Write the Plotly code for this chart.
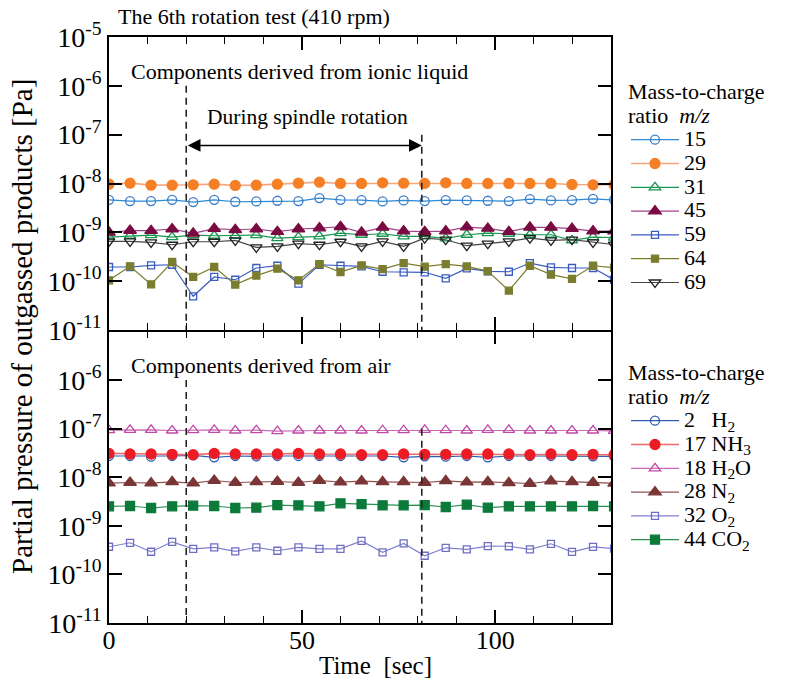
import plotly.graph_objects as go

# ---------------- data ----------------
time_s = [0, 5.45, 10.9, 16.35, 21.8, 27.25, 32.7, 38.15, 43.6, 49.05, 54.5, 59.95,
          65.4, 70.85, 76.3, 81.75, 87.2, 92.65, 98.1, 103.55, 109.0, 114.45, 119.9, 125.35, 130.8]

# ionic-liquid derived components (top panel)
mz15 = [4.64e-9, 4.36e-9, 4.36e-9, 4.64e-9, 4.16e-9, 4.64e-9, 4.23e-9, 4.30e-9, 4.43e-9, 4.36e-9, 5.02e-9, 4.64e-9,
        4.57e-9, 4.30e-9, 4.50e-9, 4.36e-9, 4.57e-9, 4.50e-9, 4.43e-9, 4.36e-9, 4.79e-9, 4.50e-9, 4.57e-9, 4.86e-9, 4.6e-9]
mz29 = [9.7e-9, 1.017e-8, 9.26e-9, 9.26e-9, 9.41e-9, 9.7e-9, 9.12e-9, 9.26e-9, 9.7e-9, 1.017e-8, 1.066e-8, 1.002e-8,
        1.002e-8, 1.033e-8, 1.017e-8, 1.002e-8, 1.033e-8, 1.002e-8, 1.002e-8, 1.002e-8, 1.002e-8, 1.002e-8, 9.55e-9, 9.41e-9, 9.41e-9]
mz31 = [8.00e-10, 8.52e-10, 8.79e-10, 8.00e-10, 8.79e-10, 8.52e-10, 8.52e-10, 8.79e-10, 7.63e-10, 8.00e-10, 8.26e-10, 9.66e-10,
        8.93e-10, 9.36e-10, 8.26e-10, 8.26e-10, 7.52e-10, 8.93e-10, 9.66e-10, 9.36e-10, 8.93e-10, 8.93e-10, 6.84e-10, 8.00e-10, 7.8e-10]
mz45 = [9.95e-10, 1.09e-9, 1.08e-9, 1.17e-9, 9.5e-10, 1.19e-9, 1.13e-9, 1.17e-9, 1.03e-9, 1.17e-9, 1.22e-9, 1.30e-9,
        9.95e-10, 1.26e-9, 1.06e-9, 1.03e-9, 1.06e-9, 1.28e-9, 1.20e-9, 1.03e-9, 1.26e-9, 1.26e-9, 1.19e-9, 1.06e-9, 1.06e-9]
mz59 = [1.95e-10, 1.95e-10, 2.11e-10, 2.17e-10, 4.9e-11, 1.22e-10, 1.07e-10, 1.86e-10, 2.07e-10, 8.9e-11, 2.17e-10, 2.07e-10,
        2.01e-10, 1.56e-10, 1.52e-10, 1.52e-10, 1.14e-10, 1.83e-10, 1.59e-10, 1.56e-10, 2.35e-10, 1.92e-10, 1.86e-10, 1.86e-10, 1.07e-10]
mz64 = [1.04e-10, 2.01e-10, 8.6e-11, 2.47e-10, 1.22e-10, 1.95e-10, 8.5e-11, 1.30e-10, 1.80e-10, 1.04e-10, 2.24e-10, 1.54e-10,
        2.11e-10, 1.77e-10, 2.35e-10, 1.98e-10, 2.24e-10, 2.01e-10, 1.61e-10, 6.4e-11, 2.07e-10, 1.36e-10, 1.11e-10, 2.07e-10, 1.9e-10]
mz69 = [6.52e-10, 6.52e-10, 6.22e-10, 5.57e-10, 6.42e-10, 6.42e-10, 6.84e-10, 4.92e-10, 5.15e-10, 5.85e-10, 5.57e-10, 6.42e-10,
        5.15e-10, 6.52e-10, 5.15e-10, 7.63e-10, 7.06e-10, 5.32e-10, 5.85e-10, 6.52e-10, 7.63e-10, 6.84e-10, 7.06e-10, 6.22e-10, 5.6e-10]

# air derived components (bottom panel)
h2 = [2.74e-8, 2.74e-8, 2.65e-8, 2.74e-8, 2.82e-8, 2.57e-8, 2.74e-8, 2.69e-8, 2.74e-8, 2.74e-8, 2.74e-8, 2.74e-8,
      2.74e-8, 2.74e-8, 2.57e-8, 2.69e-8, 2.65e-8, 2.74e-8, 2.57e-8, 2.74e-8, 2.74e-8, 2.74e-8, 2.74e-8, 2.69e-8, 2.69e-8]
nh3 = [3.10e-8, 3.01e-8, 3.01e-8, 2.96e-8, 2.91e-8, 3.10e-8, 3.01e-8, 3.01e-8, 3.01e-8, 3.10e-8, 3.01e-8, 3.01e-8,
       2.91e-8, 2.91e-8, 3.01e-8, 2.96e-8, 2.96e-8, 3.01e-8, 3.01e-8, 3.01e-8, 2.91e-8, 3.01e-8, 2.91e-8, 2.96e-8, 2.91e-8]
h2o = [9.3e-8, 9.45e-8, 9.45e-8, 9.16e-8, 9.3e-8, 9.45e-8, 9.16e-8, 9.3e-8, 8.88e-8, 9.16e-8, 9.16e-8, 9.16e-8,
       9.16e-8, 9.3e-8, 9.3e-8, 9.45e-8, 9.3e-8, 9.16e-8, 9.45e-8, 9.45e-8, 9.16e-8, 9.16e-8, 9.16e-8, 9.16e-8, 9.0e-8]
n2 = [7.55e-9, 7.8e-9, 7.55e-9, 8.04e-9, 7.55e-9, 8.57e-9, 7.8e-9, 8.04e-9, 8.17e-9, 7.8e-9, 8.57e-9, 7.91e-9,
      8.3e-9, 8.04e-9, 8.04e-9, 7.8e-9, 8.43e-9, 7.91e-9, 8.04e-9, 7.67e-9, 7.43e-9, 8.3e-9, 8.04e-9, 7.8e-9, 7.5e-9]
o2 = [3.71e-10, 4.48e-10, 2.93e-10, 4.69e-10, 3.37e-10, 3.59e-10, 2.98e-10, 3.59e-10, 3.07e-10, 3.59e-10, 3.37e-10, 3.37e-10,
      4.9e-10, 2.84e-10, 4.35e-10, 2.42e-10, 3.53e-10, 3.27e-10, 3.83e-10, 3.8e-10, 3.27e-10, 4.27e-10, 2.92e-10, 3.7e-10, 3.4e-10]
co2 = [2.52e-9, 2.56e-9, 2.33e-9, 2.52e-9, 2.60e-9, 2.56e-9, 2.33e-9, 2.36e-9, 2.68e-9, 2.64e-9, 2.52e-9, 2.90e-9,
       2.81e-9, 2.64e-9, 2.64e-9, 2.68e-9, 2.44e-9, 2.72e-9, 2.36e-9, 2.52e-9, 2.52e-9, 2.52e-9, 2.52e-9, 2.56e-9, 2.52e-9]

rotation_start = 20
rotation_end = 81

y_tick_vals = [1e-5, 1e-6, 1e-7, 1e-8, 1e-9, 1e-10, 1e-11]
y_tick_text_top = ["10<sup>-5</sup>", "10<sup>-6</sup>", "10<sup>-7</sup>", "10<sup>-8</sup>",
                   "10<sup>-9</sup>", "10<sup>-10</sup>", "10<sup>-11</sup>"]
y_tick_text_bottom = [""] + y_tick_text_top[1:]
x_tick_vals = [0, 50, 100]

FONT = "Liberation Serif, Times New Roman, serif"
LEG = 22

top_series = [
    ("15", mz15, "circle-open", 9, "#3a7cc8", "#2a8ad4", 1.2),
    ("29", mz29, "circle", 10, "#f57f25", "#f7a67c", 1.6),
    ("31", mz31, "triangle-up-open", 10, "#1a9650", "#1a9650", 1.2),
    ("45", mz45, "triangle-up", 11, "#7a0a42", "#a0428a", 1.2),
    ("59", mz59, "square-open", 7, "#3a5cc0", "#3a5cc0", 1.2),
    ("64", mz64, "square", 7, "#7b7d2e", "#7b7d2e", 1.2),
    ("69", mz69, "triangle-down-open", 10, "#222222", "#444444", 1.2),
]
bottom_series = [
    ("2&nbsp;&nbsp;&nbsp;H<sub>2</sub>", h2, "circle-open", 9, "#2d5cb0", "#2d5cb0", 1.2),
    ("17 NH<sub>3</sub>", nh3, "circle", 10, "#ec1c24", "#f06a6a", 1.6),
    ("18 H<sub>2</sub>O", h2o, "triangle-up-open", 10, "#c04aa8", "#c868b8", 1.2),
    ("28 N<sub>2</sub>", n2, "triangle-up", 11, "#7a3636", "#8f5050", 1.2),
    ("32 O<sub>2</sub>", o2, "square-open", 7, "#6e6ec4", "#8080cc", 1.2),
    ("44 CO<sub>2</sub>", co2, "square", 9, "#0b7a3a", "#2a9050", 1.2),
]

fig = go.Figure()

def add_series(series, xa, ya, legend):
    for name, vals, sym, size, mcol, lcol, lw in series:
        fig.add_trace(go.Scatter(
            x=time_s, y=vals, mode="lines+markers", xaxis=xa, yaxis=ya,
            name=f'<span style="font-size:{LEG}px">{name}</span>',
            legend=legend,
            line=dict(color=lcol, width=lw),
            marker=dict(symbol=sym, size=size, color=mcol,
                        line=dict(color=mcol, width=1.3)),
        ))

add_series(top_series, "x", "y", "legend")
add_series(bottom_series, "x2", "y2", "legend2")

# dashed lines marking spindle rotation
for xa, ya in [("x", "y"), ("x2", "y2")]:
    fig.add_trace(go.Scatter(x=[rotation_start, rotation_start], y=[1e-6, 1e-11], mode="lines",
                             xaxis=xa, yaxis=ya, showlegend=False, hoverinfo="skip",
                             line=dict(color="#222222", width=1.6, dash="7px,5px")))
    fig.add_trace(go.Scatter(x=[rotation_end, rotation_end], y=[1e-7, 1e-11], mode="lines",
                             xaxis=xa, yaxis=ya, showlegend=False, hoverinfo="skip",
                             line=dict(color="#222222", width=1.6, dash="7px,5px")))

L, R = 109 / 787, 611 / 787
top_dom = [(685 - 330) / 685, (685 - 37) / 685]
bot_dom = [(685 - 623) / 685, (685 - 331.5) / 685]

axis_common = dict(showline=True, linecolor="black", linewidth=1.5, mirror="ticks",
                   ticks="inside", tickcolor="black", showgrid=False, zeroline=False,
                   automargin=False)

xcommon = dict(axis_common, range=[0, 130], tickmode="array", tickvals=x_tick_vals, ticklen=13, tickwidth=1.6,
               tickfont=dict(family=FONT, size=26, color="black"), ticklabelstandoff=-7,
               minor=dict(dtick=10, tick0=0, ticks="inside", ticklen=7, tickcolor="black", tickwidth=1.4,
                          showgrid=False),
               domain=[L, R])
ycommon = dict(axis_common, type="log", range=[-11, -5], tickmode="array", tickvals=y_tick_vals,
               ticklen=13, tickwidth=1.6, tickfont=dict(family=FONT, size=28, color="black"))

legend_title = '<span style="font-size:22px">Mass-to-charge</span><br><span style="font-size:22px">ratio&nbsp;&nbsp;<i>m/z</i></span>'

fig.update_layout(
    template="none",
    width=787, height=685, margin=dict(l=0, r=0, t=0, b=0, pad=0, autoexpand=False),
    paper_bgcolor="white", plot_bgcolor="white",
    font=dict(family=FONT, color="black"),
    xaxis=dict(xcommon, anchor="y", showticklabels=False),
    xaxis2=dict(xcommon, anchor="y2", matches="x"),
    yaxis=dict(ycommon, domain=top_dom, anchor="x", ticktext=y_tick_text_top),
    yaxis2=dict(ycommon, domain=bot_dom, anchor="x2", ticktext=y_tick_text_bottom),
    legend=dict(x=626 / 787, y=(685 - 76) / 685, xanchor="left", yanchor="top",
                bgcolor="rgba(0,0,0,0)", borderwidth=0, font=dict(family=FONT, size=16, color="black"),
                title=dict(text=legend_title, font=dict(family=FONT, size=18, color="black")),
                itemwidth=48, tracegroupgap=0),
    legend2=dict(x=626 / 787, y=(685 - 357) / 685, xanchor="left", yanchor="top",
                 bgcolor="rgba(0,0,0,0)", borderwidth=0, font=dict(family=FONT, size=16, color="black"),
                 title=dict(text=legend_title, font=dict(family=FONT, size=18, color="black")),
                 itemwidth=48, tracegroupgap=0),
    showlegend=True,
)

ann_font = dict(family=FONT, size=22, color="black")
def text_ann(px, py, txt, xanchor="left", font=ann_font, angle=0):
    fig.add_annotation(x=px / 787, y=(685 - py) / 685, xref="paper", yref="paper", xanchor=xanchor,
                       yanchor="middle", text=txt, showarrow=False, font=font, textangle=angle)

text_ann(116, 17, "The 6th rotation test (410 rpm)")
text_ann(129, 72, "Components derived from ionic liquid")
text_ann(129, 365, "Components derived from air")
text_ann(307, 117, "During spindle rotation", xanchor="center", font=dict(family=FONT, size=21.5, color="black"))
text_ann(22, 327, "Partial pressure of outgassed products [Pa]", xanchor="center",
         font=dict(family=FONT, size=29, color="black"), angle=-90)
text_ann(375, 665, "Time&nbsp;&nbsp;[sec]", xanchor="center", font=dict(family=FONT, size=25, color="black"))

# double arrow
fig.add_annotation(x=rotation_end, y=-7.22, ax=rotation_start, ay=-7.22, xref="x", yref="y",
                   axref="x", ayref="y", text="", showarrow=True, arrowhead=2, arrowside="end+start",
                   arrowsize=1.7, arrowwidth=1.5, arrowcolor="black", standoff=0, startstandoff=0)

fig.write_html("out.html")
